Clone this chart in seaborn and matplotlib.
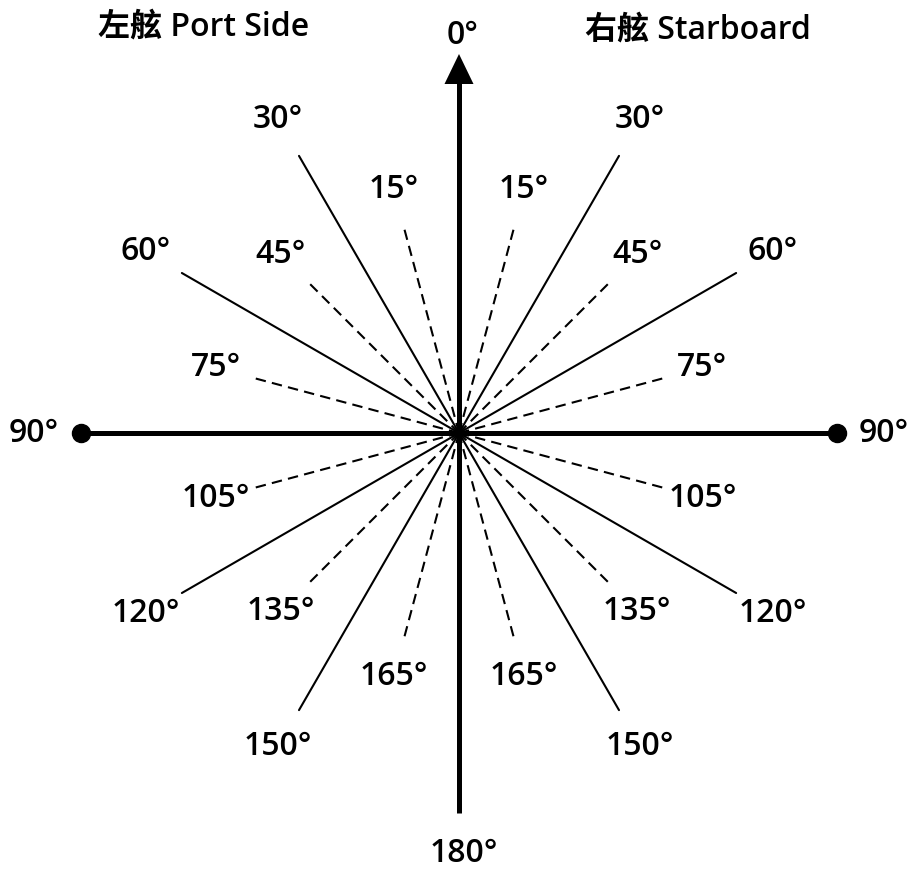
"""Ship relative bearing diagram (port / starboard)."""

import numpy as np
import pandas as pd
import matplotlib
matplotlib.use("Agg")
import matplotlib.pyplot as plt
import seaborn as sns

# bearings of the rays, drawn on both sides of the bow line
solid_bearings = [30, 60, 120, 150]
dashed_bearings = [15, 45, 75, 105, 135, 165]
axis_bearings = [0, 90, 180]

port_title = "左舷 Port Side"
starboard_title = "右舷 Starboard"

# pixel geometry of the drawing
CX, CY = 459, 433
R_AXIS = 378
R_SOLID = 320
R_DASHED = 211
R_LABEL_SOLID = 362
R_LABEL_DASHED = 252


def polar(bearing, r, side=1):
    b = np.deg2rad(bearing)
    return CX + side * r * np.sin(b), CY - r * np.cos(b)


sns.set_theme(style="white")
plt.rcParams['font.family'] = ['Open Sans', 'Noto Sans CJK TC', 'DejaVu Sans']
plt.rcParams['text.color'] = 'black'

fig = plt.figure(figsize=(9.12, 8.72), dpi=100)
ax = fig.add_axes([0, 0, 1, 1])
ax.set_xlim(0, 912)
ax.set_ylim(872, 0)
ax.axis('off')

rows = []
for kind, bearings, r in [('solid', solid_bearings, R_SOLID),
                          ('dashed', dashed_bearings, R_DASHED)]:
    for b in bearings:
        for side in (-1, 1):
            x1, y1 = polar(b, r, side)
            ray = f"{kind}_{b}_{side}"
            rows.append({'ray': ray, 'kind': kind, 'x': CX, 'y': CY})
            rows.append({'ray': ray, 'kind': kind, 'x': x1, 'y': y1})
rays = pd.DataFrame(rows)

for ray, g in rays.groupby('ray'):
    kind = g['kind'].iloc[0]
    sns.lineplot(data=g, x='x', y='y', sort=False, ax=ax, color='black',
                 lw=1.5, legend=False,
                 linestyle='-' if kind == 'solid' else (0, (5, 3)))

# main axes: bow/stern line and beam line
top = polar(0, R_AXIS - 28)
bottom = polar(180, R_AXIS + 2)
left = polar(90, R_AXIS, -1)
right = polar(90, R_AXIS, 1)
ax.plot([top[0], bottom[0]], [top[1], bottom[1]], color='black', lw=3.6,
        solid_capstyle='butt')
ax.plot([left[0], right[0]], [left[1], right[1]], color='black', lw=3.6,
        solid_capstyle='butt')
ax.plot([left[0], right[0]], [left[1], right[1]], 'o', color='black', ms=13)

# arrow head at the bow
tip = polar(0, R_AXIS + 1)
ax.fill([tip[0] - 14.5, tip[0] + 14.5, tip[0]],
        [top[1] + 1, top[1] + 1, tip[1]], color='black', lw=0)

# labels
fs = 23
fw = 600
for b in solid_bearings:
    for side in (-1, 1):
        x, y = polar(b, R_LABEL_SOLID, side)
        ax.text(x, y, f"{b}°", ha='center', va='center', fontsize=fs, fontweight=fw)
for b in dashed_bearings:
    for side in (-1, 1):
        x, y = polar(b, R_LABEL_DASHED, side)
        ax.text(x, y, f"{b}°", ha='center', va='center', fontsize=fs, fontweight=fw)

x, y = polar(axis_bearings[0], 398)
ax.text(x + 4, y, f"{axis_bearings[0]}°", ha='center', va='center',
        fontsize=fs, fontweight=fw)
x, y = polar(axis_bearings[2], 420)
ax.text(x + 5, y, f"{axis_bearings[2]}°", ha='center', va='center',
        fontsize=fs, fontweight=fw)
for side in (-1, 1):
    x, y = polar(axis_bearings[1], 425, side)
    ax.text(x, y, f"{axis_bearings[1]}°", ha='center', va='center',
            fontsize=fs, fontweight=fw)

ax.text(204, 27, port_title, ha='center', va='center', fontsize=fs, fontweight=fw)
ax.text(698, 30, starboard_title, ha='center', va='center', fontsize=fs, fontweight=fw)

fig.savefig("out.png", dpi=100)
